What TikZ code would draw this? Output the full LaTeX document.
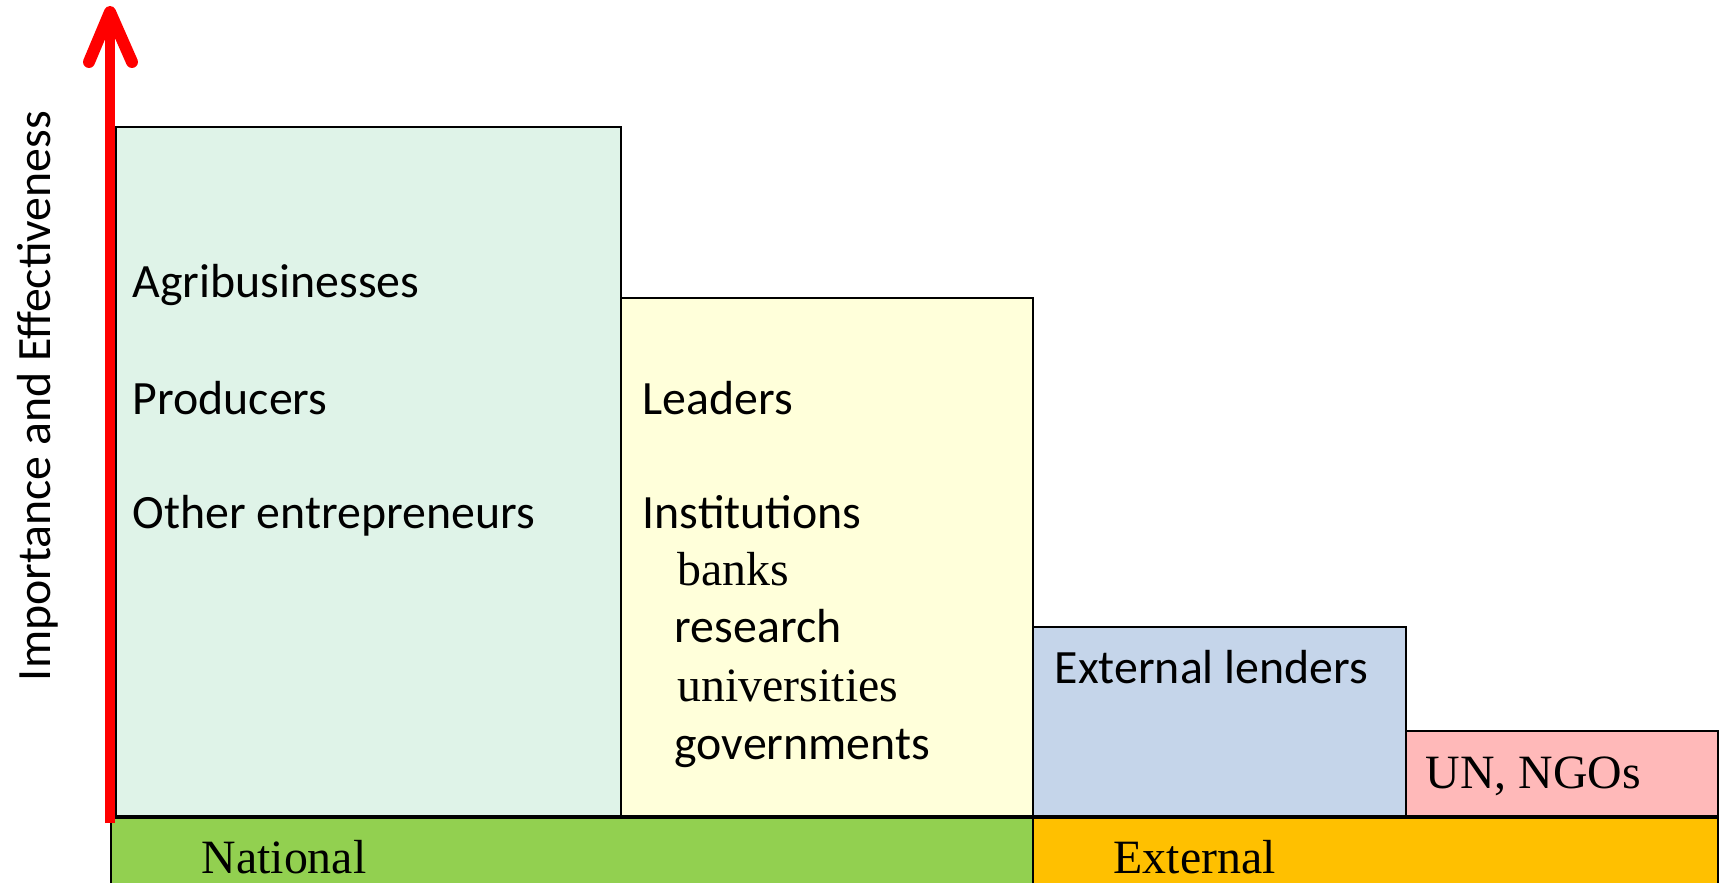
\documentclass[tikz,border=0pt]{standalone}
\usepackage{fontspec}
\setmainfont{Liberation Serif}
\newfontfamily\calfont{Carlito}
\definecolor{tealfill}{HTML}{DFF3E8}
\definecolor{yelfill}{HTML}{FFFFDA}
\definecolor{bluefill}{HTML}{C5D5EA}
\definecolor{pinkfill}{HTML}{FFB9B9}
\definecolor{natgreen}{HTML}{92D050}
\definecolor{extorange}{HTML}{FFC000}
\begin{document}
\begin{tikzpicture}[x=0.01cm,y=-0.01cm,
  boxst/.style={draw=black,line width=0.6pt},
  barst/.style={draw=black,line width=0.6pt},
  sanst/.style={inner sep=0pt,anchor=base west,font=\calfont\fontsize{13.6}{16}\selectfont},
  serst/.style={inner sep=0pt,anchor=base west,font=\fontsize{13.6}{16}\selectfont}]
\useasboundingbox (0,0) rectangle (1725,882);
\clip (0,0) rectangle (1725,882);
% boxes
\draw[boxst,fill=tealfill] (116,127) rectangle (621,817);
\draw[boxst,fill=yelfill] (621,298) rectangle (1033,817);
\draw[boxst,fill=bluefill] (1033,627) rectangle (1406,817);
\draw[boxst,fill=pinkfill] (1406,731) rectangle (1718,817);
% bars
\draw[barst,fill=natgreen] (111,817) rectangle (1033,900);
\draw[barst,fill=extorange] (1033,817) rectangle (1718,900);
\draw[line width=1.3pt] (111,817) -- (1718,817);
% texts
\node[sanst] (agri) at (132,297) {Agribusinesses};
\node[sanst] (prod) at (132,414) {Producers};
\node[sanst] (other) at (132,528) {Other entrepreneurs};
\node[sanst] (lead) at (642,414) {Leaders};
\node[sanst] (inst) at (642,528) {Institutions};
\node[serst] (banks) at (677,585) {banks};
\node[sanst] (res) at (674,642) {research};
\node[serst] (univ) at (677,701) {universities};
\node[sanst] (gov) at (674,759) {governments};
\node[sanst] (extl) at (1054,683) {External lenders};
\node[serst] (un) at (1425,788) {UN, NGOs};
\node[serst] (nat) at (201,873) {National};
\node[serst] (ext) at (1113,873) {External};
\node[inner sep=0pt,rotate=90,font=\calfont\fontsize{13.6}{16}\selectfont] (ylab) at (38,396) {Importance and Effectiveness};
% axis arrow
\coordinate (axbot) at (110,823);
\coordinate (axtop) at (110,12);
\coordinate (hl) at (89,62);
\coordinate (hr) at (132,62);
\draw[red,line width=3.1pt] (axbot) -- ([yshift=-3pt]axtop);
\draw[red,line width=3.4pt,line cap=round,line join=round] (hl) -- (axtop) -- (hr);
\end{tikzpicture}
\end{document}
